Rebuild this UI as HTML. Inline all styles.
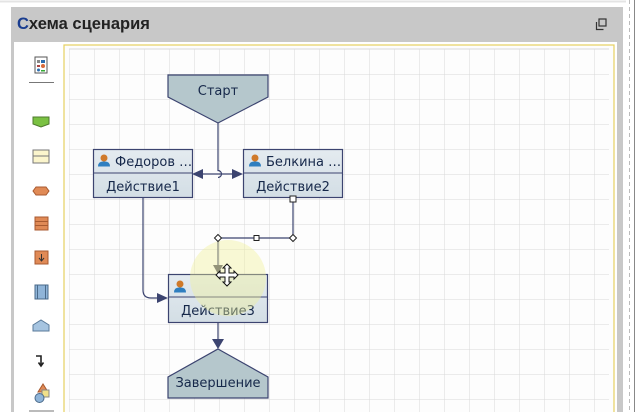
<!DOCTYPE html>
<html><head><meta charset="utf-8"><style>
html,body{margin:0;padding:0;width:638px;height:412px;overflow:hidden;background:#fff}
svg{display:block}
</style></head><body>
<svg width="638" height="412" xmlns="http://www.w3.org/2000/svg" font-family="'DejaVu Sans', sans-serif">
<defs>
<pattern id="g" x="69" y="49" width="25" height="25" patternUnits="userSpaceOnUse">
<path d="M0 0H25M0 0V25" stroke="#d9d9d9" stroke-width="1" fill="none"/>
</pattern>
<linearGradient id="nb" x1="0" y1="0" x2="0" y2="1"><stop offset="0" stop-color="#e4ebf0"/><stop offset="1" stop-color="#d3dee5"/></linearGradient>
<g id="person"><circle cx="0" cy="-3" r="3.5" fill="#d07a2a"/><path d="M-6 5.5 Q-6 0 0 0.5 Q6 0 6 5.5Z" fill="#2f7fc0"/></g>
</defs>
<rect x="0" y="0" width="638" height="412" fill="#fff"/>
<line x1="0" y1="1.5" x2="626" y2="1.5" stroke="#e4e4e4" stroke-width="2"/>
<line x1="629.5" y1="0" x2="629.5" y2="412" stroke="#bbb" stroke-dasharray="4,3"/>
<line x1="634.5" y1="0" x2="634.5" y2="412" stroke="#888"/>
<rect x="11" y="7" width="612" height="405" fill="#c8c8c8"/>
<text x="17" y="29" font-family="'Liberation Sans', sans-serif" font-weight="bold" font-size="16.5" fill="#222"><tspan fill="#1a3d8f">С</tspan>хема сценария</text>
<g fill="none" stroke="#333" stroke-width="1.2"><rect x="599" y="19" width="7" height="7"/><path d="M596.5 22V29.5H603.5"/></g>
<rect x="14" y="42" width="603" height="370" fill="#fff"/>
<rect x="64" y="45" width="550" height="370" fill="#fdfdfd" stroke="#e6d060" stroke-width="1.2"/>
<rect x="69" y="49" width="540" height="363" fill="url(#g)"/>
<line x1="69" y1="49" x2="609" y2="49" stroke="#d9d9d9"/>
<!-- toolbar -->
<g>
<rect x="35" y="57" width="12" height="16" fill="#fff" stroke="#555"/>
<rect x="37" y="60" width="3" height="3" fill="#888"/><rect x="41" y="60" width="4" height="3" fill="#2c6fb0"/>
<circle cx="43" cy="66" r="2" fill="#d86a3a"/><rect x="37" y="65" width="3" height="2" fill="#a44"/><circle cx="38.5" cy="70" r="1.5" fill="#2c6fb0"/><rect x="41" y="70" width="4" height="1.5" fill="#3a3"/>
<line x1="29" y1="82.5" x2="54" y2="82.5" stroke="#777"/>
<path d="M33 117H49V124L41 127L33 124Z" fill="#7ac142" stroke="#4f7a2e"/>
<rect x="33" y="150" width="16" height="13" fill="#fbf5cc" stroke="#777"/><line x1="33" y1="156" x2="49" y2="156" stroke="#777"/>
<path d="M36 187H46L49 191L46 195H36L33 191Z" fill="#e08a56" stroke="#a85a30"/>
<rect x="35" y="217" width="13" height="13" fill="#e08a56" stroke="#a85a30"/><path d="M35 221.5H48M35 225.5H48" stroke="#a85a30"/>
<rect x="35" y="251" width="13" height="13" fill="#e08a56" stroke="#a85a30"/><path d="M41.5 254V260M39 258L41.5 261L44 258" stroke="#333" fill="none"/>
<rect x="35" y="285" width="13" height="14" fill="#8fb4d8" stroke="#4a6a8a"/><path d="M37.5 285V299M45.5 285V299" stroke="#4a6a8a"/>
<path d="M33 331V325L41 320L49 325V331Z" fill="#a6c4e0" stroke="#5a7a9a"/>
<path d="M36 356H41V365M38.5 362.5L41 366L43.5 362.5" stroke="#222" stroke-width="1.6" fill="none"/>
<path d="M38 392L43 384L48 392Z" fill="#e08a56" stroke="#a85a30"/><rect x="42" y="390" width="7" height="7" fill="#f0e08a" stroke="#888"/><circle cx="39.5" cy="398" r="4.5" fill="#8fb4d8" stroke="#4a6a8a"/>
<line x1="29" y1="411" x2="54" y2="411" stroke="#777"/>
</g>
<!-- connectors -->
<g stroke="#3c4470" stroke-width="1.2" fill="none">
<path d="M218 123V170.5A3.5 3.5 0 0 1 218 177.5"/>
<path d="M218 174H200M218 174H236"/>
<path d="M143 198V290Q143 298 151 298H160"/>
<path d="M293 198V238H218V266"/>
<path d="M218 322V342"/>
</g>
<g fill="#3c4470">
<path d="M192 174L203 169V179Z"/>
<path d="M243 174L232 169V179Z"/>
<path d="M168 298L157 293V303Z"/>
<path d="M218 274L213 265H223Z" fill="#555566"/>
<path d="M218 349L212 339H224Z"/>
</g>
<!-- Start -->
<path d="M168 75H268V97L218 123L168 97Z" fill="#b5c7cc" stroke="#3c4470" stroke-width="1.2"/>
<text x="218" y="95" font-size="13" fill="#16284a" text-anchor="middle">Старт</text>
<!-- Fedorov -->
<rect x="93.5" y="149.5" width="99" height="48" fill="url(#nb)" stroke="#3c4470" stroke-width="1.2"/>
<line x1="93.5" y1="173" x2="192.5" y2="173" stroke="#3c4470"/>
<use href="#person" x="104" y="161"/>
<text x="115" y="166" font-size="13" fill="#16284a">Федоров …</text>
<text x="143" y="191" font-size="13" fill="#16284a" text-anchor="middle">Действие1</text>
<!-- Belkina -->
<rect x="243.5" y="149.5" width="99" height="48" fill="url(#nb)" stroke="#3c4470" stroke-width="1.2"/>
<line x1="243.5" y1="173" x2="342.5" y2="173" stroke="#3c4470"/>
<use href="#person" x="255" y="161"/>
<text x="266" y="166" font-size="13" fill="#16284a">Белкина …</text>
<text x="293" y="191" font-size="13" fill="#16284a" text-anchor="middle">Действие2</text>
<!-- D3 -->
<rect x="168.5" y="274.5" width="99" height="48" fill="url(#nb)" stroke="#3c4470" stroke-width="1.2"/>
<line x1="168.5" y1="297" x2="267.5" y2="297" stroke="#3c4470"/>
<use href="#person" x="180" y="287"/>
<text x="218" y="315" font-size="13" fill="#16284a" text-anchor="middle">Действие3</text>
<!-- End -->
<path d="M218 349L268 377V398H168V377Z" fill="#b5c7cc" stroke="#3c4470" stroke-width="1.2"/>
<text x="218" y="387" font-size="13" fill="#16284a" text-anchor="middle">Завершение</text>
<!-- highlight -->
<circle cx="228" cy="278" r="38" fill="rgba(240,240,150,0.4)"/>
<!-- handles -->
<g fill="#fff" stroke="#222" stroke-width="1">
<rect x="290" y="196" width="6" height="6"/>
<rect x="254" y="235.5" width="5" height="5"/>
<path d="M218 234.5L221.5 238L218 241.5L214.5 238Z"/>
<path d="M293 234.5L296.5 238L293 241.5L289.5 238Z"/>
</g>
<!-- move cursor -->
<path d="M227 264L231 268H229V273H234V271L238 275L234 279V277H229V282H231L227 286L223 282H225V277H220V279L216 275L220 271V273H225V268H223Z" fill="#fff" stroke="#111" stroke-width="1"/>
</svg>
</body></html>
